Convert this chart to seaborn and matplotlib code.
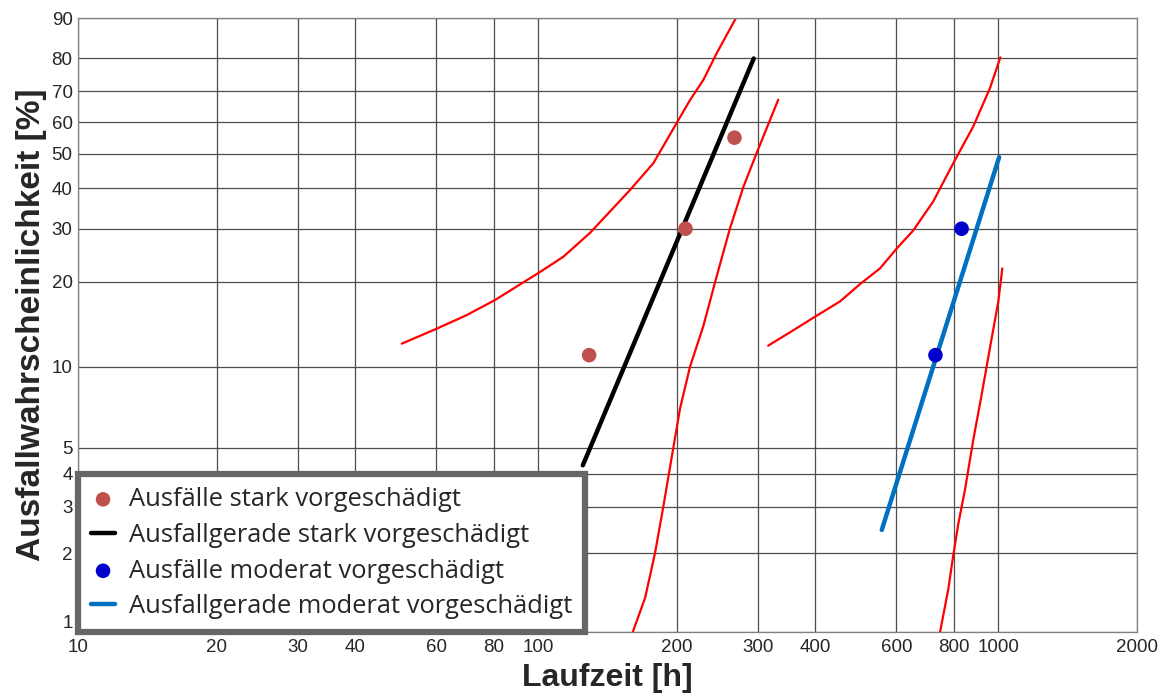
import numpy as np
import matplotlib
matplotlib.use('Agg')
import matplotlib.pyplot as plt
import seaborn as sns
from matplotlib.ticker import FixedLocator, FixedFormatter, NullLocator

# Ausfalldaten (Weibull-Wahrscheinlichkeitsnetz)
stark_t = [129, 209, 267]
stark_F = [11, 30, 55]
moderat_t = [730, 832]
moderat_F = [11, 30]

gerade_stark_t = [125, 294]
gerade_stark_F = [4.3, 80]
gerade_moderat_t = [558, 1004]
gerade_moderat_F = [2.45, 48.9]

# Vertrauensbereiche
vb_stark_oben_t = [50.5, 60.2, 69.9, 80.6, 92.8, 100, 113.4, 129.6, 143.2, 158.3,
                   177.9, 200.6, 213.8, 228.5, 244.3, 269]
vb_stark_oben_F = [12.1, 13.7, 15.3, 17.3, 19.9, 21.4, 24.3, 29.1, 34.0, 39.5,
                   47.1, 60.1, 67.2, 73.6, 81.5, 90]
vb_stark_unten_t = [160.5, 170.7, 179.4, 187.0, 196.6, 203.3, 213.8, 228.5, 244.3,
                    261.1, 279.1, 299.3, 332.4]
vb_stark_unten_F = [1.0, 1.35, 2.0, 3.0, 5.0, 7.0, 10.0, 14.0, 20.9,
                    30.1, 40.3, 50.7, 67.3]
vb_mod_oben_t = [316, 358, 402, 453, 500, 553, 603, 653, 722, 798, 882, 959, 1010]
vb_mod_oben_F = [11.9, 13.5, 15.2, 17.1, 19.6, 22.2, 26.0, 29.6, 36.5, 47.1, 58.6, 71.0, 80.3]
vb_mod_unten_t = [747, 778, 798, 818, 846, 882, 920, 959, 1000, 1020]
vb_mod_unten_F = [1.0, 1.45, 1.96, 2.57, 3.47, 5.35, 7.9, 11.7, 17.1, 22.2]

x_ticks = [10, 20, 30, 40, 60, 80, 100, 200, 300, 400, 600, 800, 1000, 2000]
y_ticks = [1, 2, 3, 4, 5, 10, 20, 30, 40, 50, 60, 70, 80, 90]

sns.set_style('white')
plt.rcParams['font.family'] = ['Liberation Sans', 'DejaVu Sans']


def weib(p):
    p = np.clip(np.asarray(p, dtype=float), 1e-6, 99.9999) / 100.0
    return np.log(-np.log(1 - p))


def weib_inv(u):
    return 100.0 * (1 - np.exp(-np.exp(np.asarray(u, dtype=float))))


fig, ax = plt.subplots(figsize=(11.66, 6.93), dpi=100)
fig.subplots_adjust(left=0.067, right=0.975, top=0.974, bottom=0.088)

# Vertrauensbereiche
for t, F in [(vb_stark_oben_t, vb_stark_oben_F), (vb_stark_unten_t, vb_stark_unten_F),
             (vb_mod_oben_t, vb_mod_oben_F), (vb_mod_unten_t, vb_mod_unten_F)]:
    sns.lineplot(x=t, y=F, sort=False, color='#FF0000', lw=1.6, ax=ax, legend=False)

sns.scatterplot(x=stark_t, y=stark_F, color='#C0504D', s=110, edgecolor='none',
                ax=ax, label='Ausfälle stark vorgeschädigt', zorder=5)
sns.lineplot(x=gerade_stark_t, y=gerade_stark_F, color='black', lw=3.2, ax=ax,
             label='Ausfallgerade stark vorgeschädigt')
sns.scatterplot(x=moderat_t, y=moderat_F, color='#0000CC', s=110, edgecolor='none',
                ax=ax, label='Ausfälle moderat vorgeschädigt', zorder=5)
sns.lineplot(x=gerade_moderat_t, y=gerade_moderat_F, color='#0070C0', lw=3.2, ax=ax,
             label='Ausfallgerade moderat vorgeschädigt')

ax.set_xscale('log')
ax.set_yscale('function', functions=(weib, weib_inv))
ax.set_xlim(10, 2000)
ax.set_ylim(1, 90)

ax.xaxis.set_major_locator(FixedLocator(x_ticks))
ax.xaxis.set_major_formatter(FixedFormatter([str(v) for v in x_ticks]))
ax.xaxis.set_minor_locator(NullLocator())
ax.yaxis.set_major_locator(FixedLocator(y_ticks))
ax.yaxis.set_major_formatter(FixedFormatter([str(v) for v in y_ticks]))
ax.yaxis.set_minor_locator(NullLocator())
ax.tick_params(length=0, labelsize=13.5)
ax.tick_params(axis='x', pad=5)
ax.tick_params(axis='y', pad=4)
# "1" sits just above the corner, as in the original
ax.get_yticklabels()[0].set_verticalalignment('bottom')

ax.grid(True, which='major', color='#4d4d4d', lw=0.9)
for s in ax.spines.values():
    s.set_color('#808080')
    s.set_linewidth(0.9)

ax.set_xlabel('Laufzeit [h]', fontsize=23, fontweight='bold', labelpad=5)
ax.set_ylabel('Ausfallwahrscheinlichkeit [%]', fontsize=24, fontweight='bold', labelpad=3)

leg = ax.legend(loc='lower left', bbox_to_anchor=(0, 0), borderaxespad=0,
                fancybox=False, framealpha=1, handlelength=0.95, handletextpad=0.55,
                borderpad=0.5, labelspacing=0.42, prop={'family': 'Open Sans', 'size': 18.4})
leg.get_frame().set_edgecolor('#666666')
leg.get_frame().set_linewidth(4.5)
leg.set_zorder(10)

plt.savefig('out.png', dpi=100)
